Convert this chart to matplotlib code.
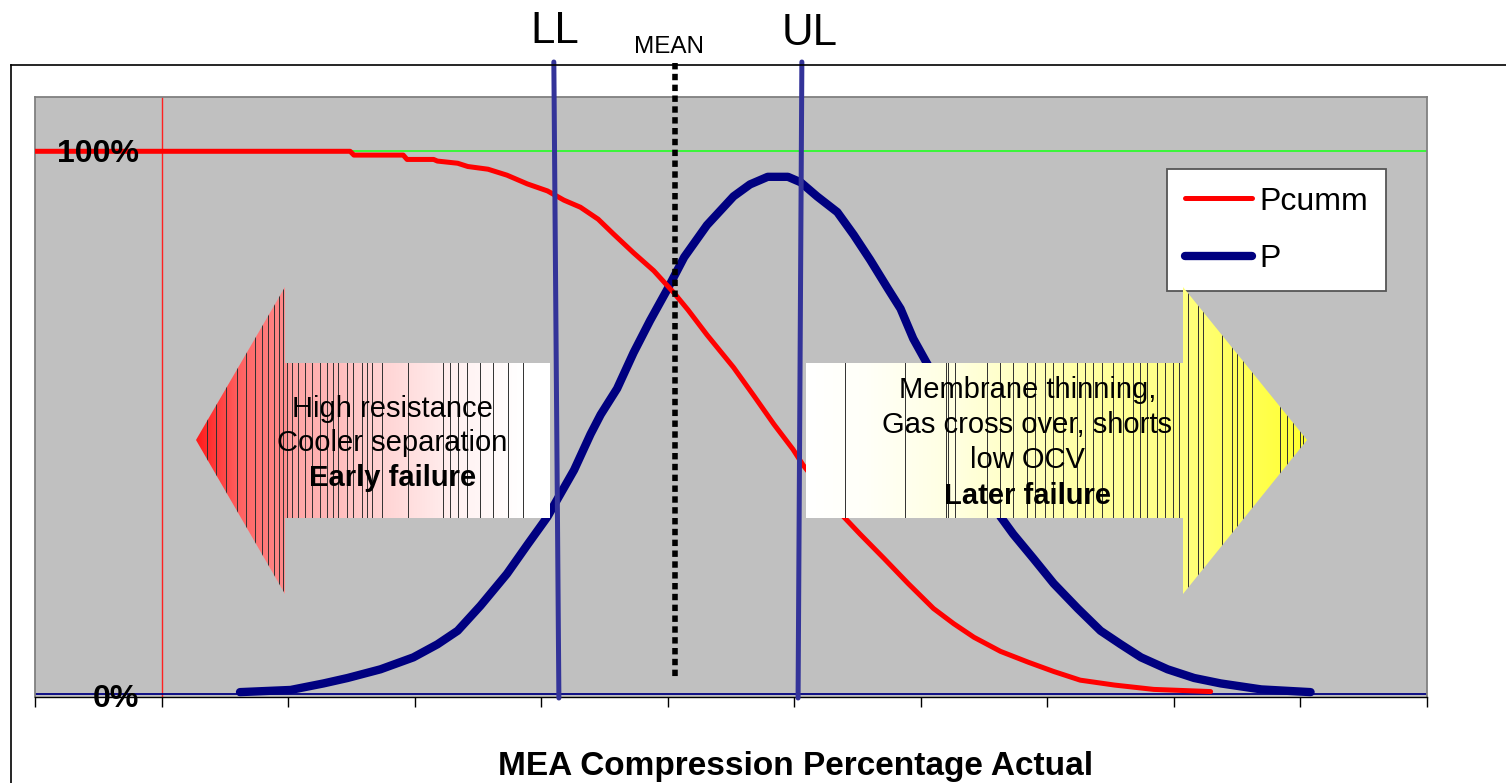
import numpy as np
import matplotlib
matplotlib.use('Agg')
import matplotlib.pyplot as plt
from matplotlib.patches import Polygon
from matplotlib.collections import LineCollection
from matplotlib.colors import LinearSegmentedColormap
from matplotlib.lines import Line2D
from matplotlib.transforms import blended_transform_factory

plt.rcParams['font.family'] = ['Liberation Sans', 'DejaVu Sans']

# Pcumm: fraction still above a given compression
pcumm_x = [0.00, 2.49, 2.52, 2.91, 2.94, 3.15, 3.18, 3.34, 3.42, 3.58,
           3.73, 3.89, 4.05, 4.18, 4.31, 4.45, 4.57, 4.73, 4.89, 5.05,
           5.16, 5.31, 5.52, 5.68, 5.84, 5.99, 6.07, 6.23, 6.39, 6.52,
           6.71, 6.90, 7.10, 7.26, 7.42, 7.63, 7.85, 8.05, 8.26, 8.53,
           8.84, 9.29]
pcumm_y = [1.0, 1.0, 0.993, 0.993, 0.985, 0.985, 0.982, 0.978, 0.972, 0.967,
           0.956, 0.94, 0.927, 0.91, 0.897, 0.875, 0.848, 0.813, 0.78, 0.739,
           0.708, 0.662, 0.602, 0.55, 0.497, 0.451, 0.422, 0.375, 0.327, 0.295,
           0.25, 0.204, 0.158, 0.13, 0.105, 0.079, 0.059, 0.042, 0.026, 0.017,
           0.009, 0.005]

# P: distribution (scaled)
p_x = [1.62, 2.02, 2.28, 2.47, 2.73, 2.99, 3.18, 3.34, 3.52, 3.73,
       3.89, 4.05, 4.13, 4.26, 4.39, 4.47, 4.60, 4.73, 4.86, 5.00,
       5.13, 5.31, 5.52, 5.65, 5.79, 5.95, 6.05, 6.18, 6.34, 6.47,
       6.60, 6.74, 6.84, 6.94, 7.04, 7.24, 7.43, 7.63, 7.73, 7.89,
       8.05, 8.24, 8.42, 8.58, 8.74, 8.95, 9.16, 9.37, 9.69, 10.08]
p_y = [0.004, 0.008, 0.02, 0.03, 0.046, 0.068, 0.092, 0.117, 0.163, 0.222,
       0.275, 0.327, 0.36, 0.413, 0.479, 0.515, 0.563, 0.629, 0.688, 0.747,
       0.805, 0.864, 0.917, 0.939, 0.953, 0.953, 0.943, 0.917, 0.888, 0.846,
       0.80, 0.747, 0.71, 0.655, 0.613, 0.53, 0.44, 0.327, 0.295, 0.25,
       0.204, 0.158, 0.117, 0.092, 0.068, 0.046, 0.03, 0.02, 0.009, 0.004]

# limits (top, bottom x of each hand drawn line)
ll_x = [4.10, 4.14]
ul_x = [6.06, 6.03]
mean_x = 5.06

xticks = np.arange(0, 12)
y_marks = [1.0, 0.0]
y_mark_labels = ['100%', '0%']

left_lines = ['High resistance', 'Cooler separation', 'Early failure']
right_lines = ['Membrane thinning,', 'Gas cross over, shorts', 'low OCV', 'Later failure']

W, H = 1506, 783
PL, PR, PT, PB = 35, 1427, 97, 697   # plot area in pixels

fig = plt.figure(figsize=(W / 100, H / 100), dpi=100)
ax = fig.add_axes([PL / W, 1 - PB / H, (PR - PL) / W, (PB - PT) / H])
ax.set_facecolor('#C0C0C0')


def axfrac(px, py):
    return (np.asarray(px, float) - PL) / (PR - PL), (PB - np.asarray(py, float)) / (PB - PT)


def figpos(px, py):
    return px / W, 1 - py / H


# reference lines
ax.axhline(1.0, color='#22FF22', lw=1.2, zorder=2)
ax.axvline(1, color='#FF2020', lw=1.0, zorder=2)
ax.axhline(0, color='#000080', lw=1.3, zorder=2)

# curves
p_line, = ax.plot(p_x, p_y, color='#000080', lw=6, solid_capstyle='round',
                  solid_joinstyle='round', label='P', zorder=3)
pc_line, = ax.plot(pcumm_x, pcumm_y, color='#FF0000', lw=3.6, solid_capstyle='round',
                   label='Pcumm', zorder=4)


def gradient_arrow(verts_px, x0, x1, stops, stripes_px):
    xs, ys = axfrac(*zip(*verts_px))
    poly = Polygon(np.column_stack([xs, ys]), closed=True, transform=ax.transAxes,
                   fc='none', ec='none', zorder=5)
    ax.add_patch(poly)
    cmap = LinearSegmentedColormap.from_list('arrow', stops)
    grad = np.linspace(0, 1, 512).reshape(1, -1)
    fx0, _ = axfrac(x0, 0)
    fx1, _ = axfrac(x1, 0)
    im = ax.imshow(grad, cmap=cmap, aspect='auto', interpolation='bilinear',
                   extent=[fx0, fx1, ys.min(), ys.max()], transform=ax.transAxes, zorder=5)
    im.set_clip_path(poly)
    sx, _ = axfrac(stripes_px, 0)
    segs = [[(x, ys.min()), (x, ys.max())] for x in sx]
    lc = LineCollection(segs, colors='#303030', linewidths=0.7, transform=ax.transAxes, zorder=6)
    lc.set_clip_path(poly)
    ax.add_collection(lc, autolim=False)


gradient_arrow([(196, 440), (285, 287), (285, 363), (550, 363), (550, 518), (285, 518), (285, 594)],
               196, 550,
               [(0, '#FF1A1A'), (0.12, '#FF6060'), (0.25, '#FF8C8C'), (0.27, '#FFA4A4'),
                (0.5, '#FFD0D0'), (0.75, '#FFF2F2'), (0.92, '#FFFFFF'), (1, '#FFFFFF')],
               [207, 216, 226, 237, 246, 255, 262, 268, 274, 279, 283,
                287, 292, 298, 305, 312, 320, 327, 333, 338, 347, 353, 362, 367, 372,
                382, 408, 443, 450, 458, 467, 480, 493, 508, 523])

gradient_arrow([(806, 363), (1183, 363), (1183, 287), (1307, 440), (1183, 594), (1183, 518), (806, 518)],
               806, 1307,
               [(0, '#FFFFFF'), (0.12, '#FFFFF8'), (0.3, '#FFFFE0'), (0.5, '#FFFFB0'),
                (0.75, '#FFFF80'), (0.9, '#FFFF50'), (1, '#FFFF30')],
               [845, 905, 946, 948, 955, 987, 1000, 1013, 1027, 1035, 1045, 1053, 1063,
                1077, 1085, 1093, 1102, 1113, 1123, 1133, 1140, 1147, 1157, 1165, 1173,
                1179, 1188, 1198, 1203, 1222, 1232, 1237, 1243, 1252, 1280, 1287, 1293,
                1300, 1303])

# arrow captions
for txt, base, bold in zip(left_lines, [417, 451, 486], [False, False, True]):
    x, y = axfrac(392.5, base)
    ax.text(x, y, txt, transform=ax.transAxes, ha='center', va='baseline', fontsize=21,
            fontweight='bold' if bold else 'normal', zorder=8)
for txt, base, bold in zip(right_lines, [398, 433, 468, 504], [False, False, False, True]):
    x, y = axfrac(1027.5, base)
    ax.text(x, y, txt, transform=ax.transAxes, ha='center', va='baseline', fontsize=21,
            fontweight='bold' if bold else 'normal', zorder=8)

# LL / UL / MEAN markers
xa = blended_transform_factory(ax.transData, ax.transAxes)
top_f, bot_f = axfrac(0, 62)[1], axfrac(0, 698)[1]
for xs in (ll_x, ul_x):
    ax.plot(xs, [top_f, bot_f], transform=xa, color='#333399', lw=3.6,
            solid_capstyle='round', clip_on=False, zorder=7)
ax.plot([mean_x, mean_x], [axfrac(0, 63)[1], axfrac(0, 678)[1]], transform=xa,
        color='black', lw=4, linestyle=(0, (1.15, 0.8)), clip_on=False, zorder=7)

fig.text(*figpos(555, 43), 'LL', ha='center', va='baseline', fontsize=31.5)
fig.text(*figpos(810, 45), 'UL', ha='center', va='baseline', fontsize=31.5)
fig.text(*figpos(669, 53), 'MEAN', ha='center', va='baseline', fontsize=17.5)

# y value labels beside the red axis
for val, lab, base in zip(y_marks, y_mark_labels, [162, 707]):
    fig.text(*figpos(139, base), lab, ha='right', va='baseline', fontsize=23,
             fontweight='bold', zorder=8)

fig.text(*figpos(796, 775), 'MEA Compression Percentage Actual', ha='center', va='baseline',
         fontsize=24, fontweight='bold')

# legend (sits under the arrows, above the curves)
leg = ax.legend(handles=[pc_line, p_line], loc='upper left', bbox_to_anchor=axfrac(1167, 169),
                borderaxespad=0, frameon=True, fancybox=False, framealpha=1,
                edgecolor='#555555', facecolor='white', prop=dict(size=23),
                handlelength=2.1, handletextpad=0.25, borderpad=0.55, labelspacing=0.85)
leg.get_frame().set_linewidth(1.3)
leg.set_zorder(4.9)

# axes styling
ax.set_xticks(xticks)
ax.set_yticks([])
ax.tick_params(axis='x', direction='out', length=7.5, width=1, color='black', labelbottom=False)
for side in ['top', 'right', 'left']:
    ax.spines[side].set_color('#808080')
    ax.spines[side].set_linewidth(1.3)
ax.spines['bottom'].set_color('black')
ax.spines['bottom'].set_linewidth(1.0)

ax.set_xlim(0, 11)
ax.set_ylim(-0.005, 1.1)

# chart border
fig.add_artist(Line2D([11 / W, 11 / W], [0, 1 - 65 / H], color='black', lw=1.2))
fig.add_artist(Line2D([11 / W, 1], [1 - 65 / H, 1 - 65 / H], color='black', lw=1.2))

fig.savefig('out.png', dpi=100)
